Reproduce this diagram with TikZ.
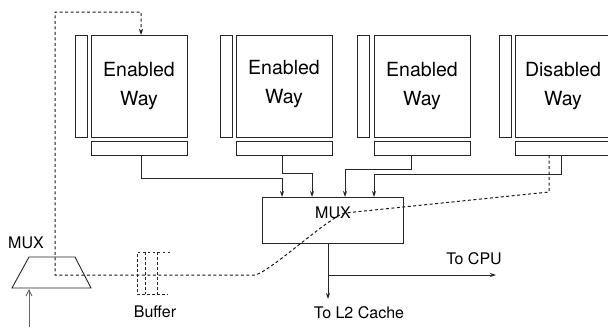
\documentclass[tikz,border=0pt]{standalone}
\usepackage{fontspec}
\setmainfont{TeX Gyre Heros}
\usetikzlibrary{arrows.meta}
\begin{document}
\begin{tikzpicture}[x=1pt,y=-1pt,
  sidebar/.style={draw=black!85,line width=1pt,inner sep=0pt,minimum width=12pt,minimum height=102pt},
  mainbox/.style={draw=black!85,line width=1pt,inner sep=0pt,minimum width=96pt,minimum height=102pt,align=center,font=\fontsize{19.5}{29}\selectfont},
  botbar/.style={draw=black!85,line width=1pt,inner sep=0pt,minimum width=96pt,minimum height=14pt},
  wire/.style={draw=black!85,line width=0.9pt},
  arr/.style={wire,-{Stealth[length=6pt,width=4pt]}},
  dwire/.style={draw=black!90,line width=1pt,dash pattern=on 3pt off 2.5pt},
  lbl/.style={font=\fontsize{16}{18}\selectfont,inner sep=0pt}
]
\useasboundingbox (0,0) rectangle (608,327);
\clip (0,0) rectangle (608,327);
% ways
\node[sidebar] (s1) at (81,86) {};
\node[mainbox] (w1) at (139,86) {Enabled\\Way};
\node[botbar] (b1) at (139,148) {};
\node[sidebar] (s2) at (226,86) {};
\node[mainbox] (w2) at (284,86) {};
\node[mainbox,draw=none] (t2) at (284,84) {Enabled\\Way};
\node[botbar] (b2) at (284,148) {};
\node[sidebar] (s3) at (363,86) {};
\node[mainbox] (w3) at (422,86) {Enabled\\Way};
\node[botbar] (b3) at (422,148) {};
\node[sidebar] (s4) at (505,86) {};
\node[mainbox] (w4) at (563,86) {Disabled\\Way};
\node[botbar] (b4) at (563,148) {};
% mux
\node[draw=black!85,line width=1pt,minimum width=141pt,minimum height=46pt,inner sep=0pt] (mux) at (332.5,220) {};
\node[lbl] (muxl) at (333,213) {MUX};
% coordinates
\coordinate (o1) at (141,155);
\coordinate (o2) at (282,155);
\coordinate (o3) at (411,155);
\coordinate (o4) at (561,155);
\coordinate (o4d) at (549,155);
\coordinate (i1) at (282,197);
\coordinate (i2) at (312,197);
\coordinate (i3) at (345,197);
\coordinate (i4) at (374,197);
\draw[arr] (o1) |- (282,178) -- (i1);
\draw[arr] (o2) |- (312,173) -- (i2);
\draw[arr] (o3) |- (345,169) -- (i3);
\draw[arr] (o4) |- (374,174) -- (i4);
% outputs
\coordinate (mo) at (328,243);
\coordinate (br) at (328,275);
\node[lbl] (l2) at (359,313) {To L2 Cache};
\node[lbl] (cpu) at (474,259) {To CPU};
\coordinate (l2a) at (328,299);
\coordinate (cpua) at (496,275);
\draw[arr] (mo) -- (l2a);
\draw[arr] (br) -- (cpua);
% left mux
\coordinate (ma) at (29,257);
\coordinate (mb) at (75,257);
\coordinate (mc) at (91,288);
\coordinate (md) at (12,288);
\draw[wire] (ma) -- (mb) -- (mc) -- (md) -- cycle;
\node[lbl] (lmux) at (26,243) {MUX};
\coordinate (sel) at (29,327);
\coordinate (selt) at (29,289);
\draw[wire,draw=black!60,-{Straight Barb[length=6pt,width=6pt]}] (sel) -- (selt);
% buffer
\coordinate (bf1) at (137,252);
\coordinate (bf2) at (170,252);
\coordinate (bf3) at (137,294);
\coordinate (bf4) at (168,294);
\draw[draw=black!85,line width=0.8pt,dash pattern=on 2.5pt off 2.5pt]
  (bf2) -- (bf1) -- (bf3) -- (bf4)
  (145,252) -- (145,294) (157,252) -- (157,294);
\node[lbl] (bufl) at (155,312) {Buffer};
% dashed control path
\coordinate (dtop) at (141,35);
\draw[dwire,-{Stealth[length=6pt,width=4pt]}] (o4d) -- (549,192) -- (345,213)
  .. controls (330,216) and (270,272) .. (255,275) -- (55,275) -- (55,12) -- (141,12) -- (dtop);
\end{tikzpicture}
\end{document}
